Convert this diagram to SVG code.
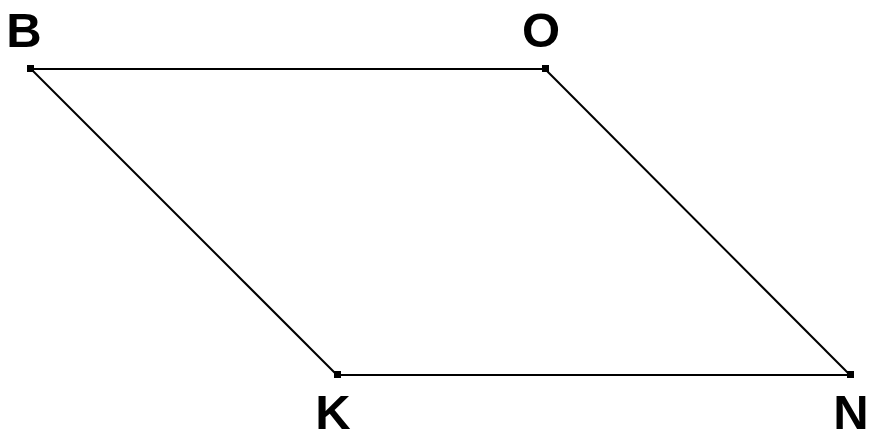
<svg xmlns="http://www.w3.org/2000/svg" width="869" height="439" viewBox="0 0 869 439">
<style>
.lbl{font-family:"Liberation Sans",Arial,sans-serif;font-weight:bold;font-size:49px;fill:#000;text-anchor:middle}
.edge{stroke:#000;stroke-width:2;fill:none}
.pt{fill:#000}
</style>
<rect width="869" height="439" fill="#fff"/>
<g id="connectors">
<line class="edge" x1="31" y1="69" x2="545" y2="69"/>
<line class="edge" x1="545" y1="69" x2="850" y2="375"/>
<line class="edge" x1="850" y1="375" x2="337" y2="375"/>
<line class="edge" x1="337" y1="375" x2="31" y2="69"/>
</g>
<g id="B"><rect class="pt" x="27" y="65" width="7" height="7"/><text class="lbl" x="24" y="47">B</text></g>
<g id="O"><rect class="pt" x="542" y="65" width="7" height="7"/><text class="lbl" x="541" y="47">O</text></g>
<g id="K"><rect class="pt" x="334" y="371" width="7" height="7"/><text class="lbl" x="333" y="429">K</text></g>
<g id="N"><rect class="pt" x="847" y="371" width="7" height="7"/><text class="lbl" x="851" y="429">N</text></g>
</svg>
